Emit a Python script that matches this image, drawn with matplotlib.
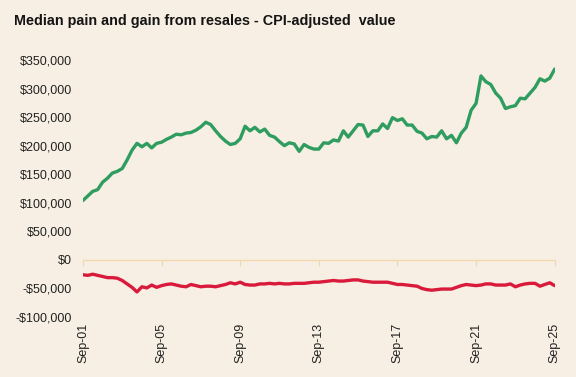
import numpy as np
import pandas as pd
import matplotlib
matplotlib.use("Agg")
import matplotlib.pyplot as plt

# quarterly points, Sep-01 .. Sep-25
dates = pd.date_range("2001-09-01", "2025-09-01", freq="3MS")

gain = [104, 112, 120, 123, 136, 143, 152, 155, 160, 175,
        192, 204, 198, 204, 196, 204, 206, 211, 215, 220,
        219, 222, 223, 227, 233, 241, 237, 226, 216, 208,
        202, 204, 212, 234, 226, 232, 224, 229, 218, 215,
        207, 200, 205, 203, 190, 202, 197, 194, 194, 205,
        204, 210, 208, 226, 215, 226, 237, 236, 216, 226,
        226, 238, 230, 249, 244, 247, 236, 236, 225, 222,
        212, 216, 215, 226, 212, 218, 205, 222, 232, 262,
        274, 322, 312, 307, 292, 283, 265, 268, 270, 283,
        282, 292, 302, 317, 313, 318, 334]

pain = [-26, -27, -25, -27, -29, -31, -31, -32, -36, -42,
        -48, -56, -47, -49, -44, -48, -45, -43, -42, -44,
        -46, -47, -43, -45, -47, -46, -46, -47, -45, -43,
        -40, -42, -39, -43, -44, -44, -42, -42, -41, -42,
        -41, -42, -42, -41, -41, -41, -40, -39, -39, -38,
        -37, -36, -37, -37, -36, -35, -35, -37, -38, -39,
        -39, -39, -39, -41, -43, -43, -44, -45, -46, -50,
        -52, -53, -52, -51, -51, -51, -48, -45, -43, -44,
        -45, -44, -42, -42, -44, -44, -44, -42, -47, -44,
        -42, -41, -41, -46, -43, -40, -45]

gain = np.array(gain) * 1000
pain = np.array(pain) * 1000

yticks = np.arange(-100000, 350001, 50000)
xticks = dates[::16]

bg = "#f7efe3"
plt.rcParams["font.family"] = ["Liberation Sans", "DejaVu Sans"]

fig = plt.figure(figsize=(5.76, 3.77), dpi=100, facecolor=bg)
ax = fig.add_axes([0.144, 0.159, 0.819, 0.682], facecolor=bg)

ax.plot(dates, gain, color="#2f9c60", lw=2.4, solid_capstyle="round")
ax.plot(dates, pain, color="#d91a3b", lw=2.4, solid_capstyle="round")

ax.set_xlim(dates[0], dates[-1])
ax.set_ylim(-100000, 350000)

ax.set_yticks(yticks)
ax.set_yticklabels([("-$" if v < 0 else "$") + f"{abs(v):,}" for v in yticks])
ax.tick_params(axis="y", length=0, pad=8, labelsize=9, labelcolor="#222222")

# x axis sits on zero, labels pushed below the plot
for s in ["top", "right", "left"]:
    ax.spines[s].set_visible(False)
ax.spines["bottom"].set_position(("data", 0))
ax.spines["bottom"].set_color("#f2d7ae")
ax.spines["bottom"].set_linewidth(1)
ax.set_xticks(xticks)
ax.set_xticklabels([d.strftime("%b-%y") for d in xticks], rotation=90)
ax.tick_params(axis="x", length=4, color="#f2d7ae", pad=41, labelsize=9,
               labelcolor="#222222")

fig.text(0.024, 0.943, "Median pain and gain from resales - CPI-adjusted  value",
         fontsize=10.4, fontweight="bold", color="#141414", va="center")

fig.savefig("out.png", dpi=100, facecolor=bg)
